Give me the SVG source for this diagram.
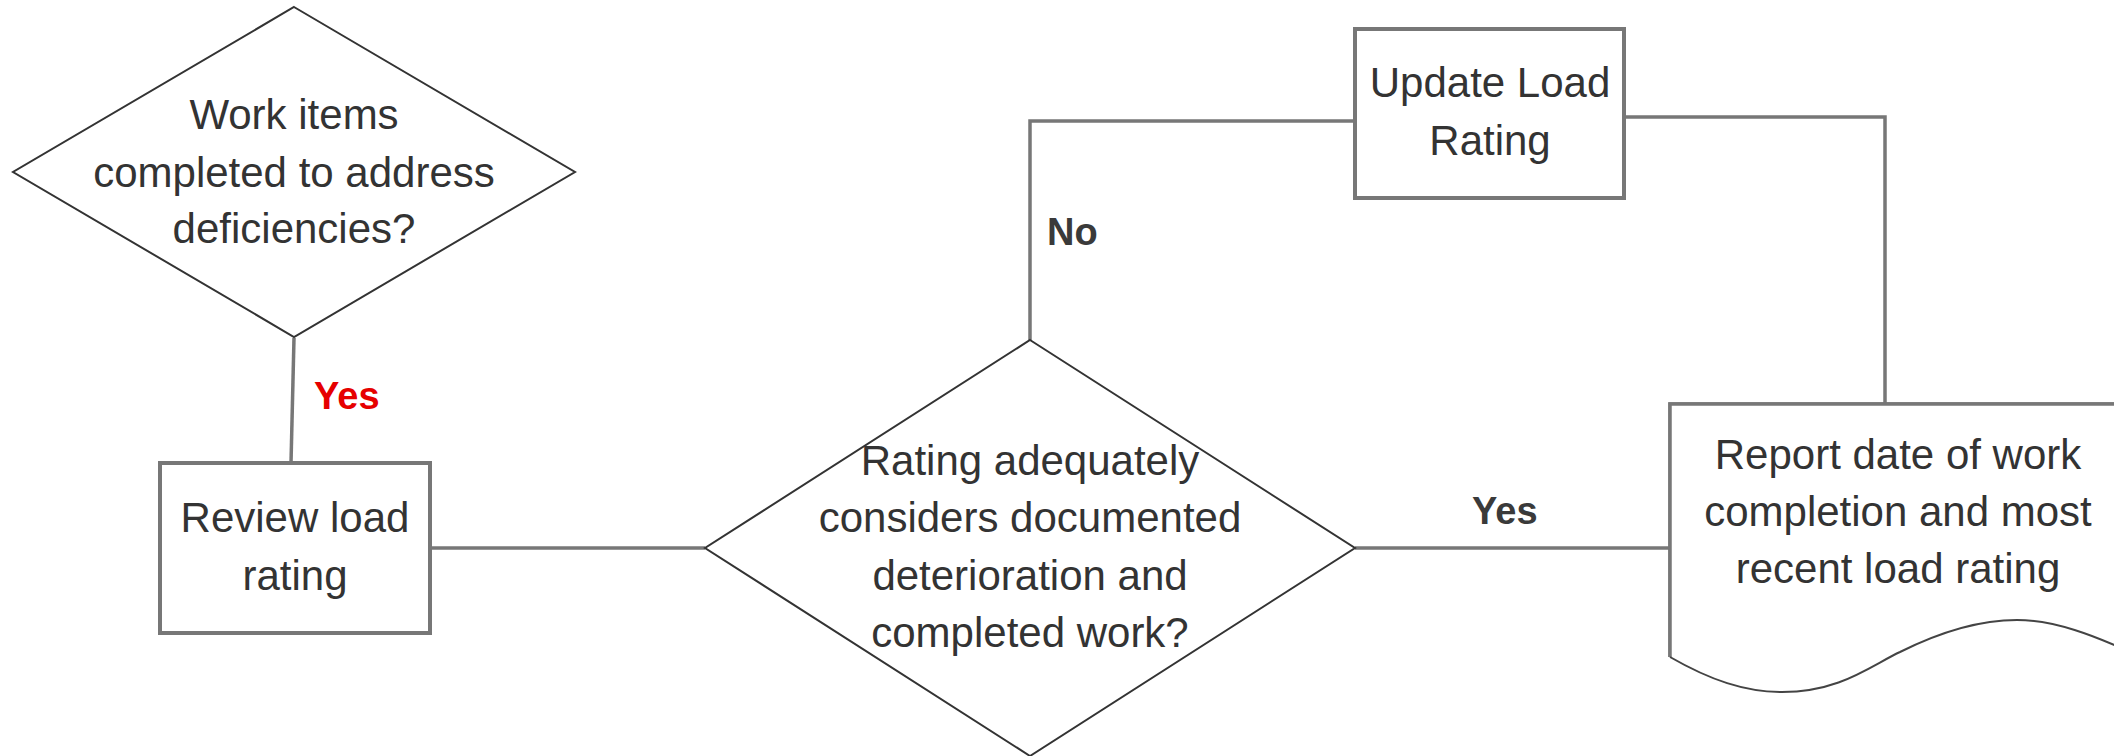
<svg xmlns="http://www.w3.org/2000/svg" width="2114" height="756" viewBox="0 0 2114 756">
<style>
.box{fill:#fff;stroke:#777;stroke-width:4}
.dia{fill:#fff;stroke:#333;stroke-width:2}
.doc{fill:#fff;stroke:#777;stroke-width:3.5}
.wave{fill:none;stroke:#444;stroke-width:2}
.conn{fill:none;stroke:#777;stroke-width:3.5}
.t{font-family:"Liberation Sans",Arial,sans-serif;font-size:42px;fill:#333;text-anchor:middle}
.lbl{font-family:"Liberation Sans",Arial,sans-serif;font-size:38px;font-weight:bold;fill:#3a3a3a}
.red{fill:#e60000}
</style>
<rect width="2114" height="756" fill="#fff"/>
<g id="connectors">
<line class="conn" x1="294" y1="338" x2="291" y2="463"/>
<line class="conn" x1="430" y1="548" x2="705" y2="548"/>
<polyline class="conn" points="1030,340 1030,121 1355,121"/>
<polyline class="conn" points="1624,117 1885,117 1885,404"/>
<line class="conn" x1="1355" y1="548" x2="1670" y2="548"/>
<text class="lbl red" x="314" y="409">Yes</text>
<text class="lbl" x="1047" y="245">No</text>
<text class="lbl" x="1472" y="524">Yes</text>
</g>
<g id="node-work-items">
<polygon class="dia" points="294,7 575,172 294,337 13,172"/>
<text class="t" x="294" y="129">Work items</text>
<text class="t" x="294" y="187">completed to address</text>
<text class="t" x="294" y="243">deficiencies?</text>
</g>
<g id="node-review">
<rect class="box" x="160" y="463" width="270" height="170"/>
<text class="t" x="295" y="532">Review load</text>
<text class="t" x="295" y="590">rating</text>
</g>
<g id="node-rating-decision">
<polygon class="dia" points="1030,340 1355,548 1030,756 705,548"/>
<text class="t" x="1030" y="475">Rating adequately</text>
<text class="t" x="1030" y="532">considers documented</text>
<text class="t" x="1030" y="590">deterioration and</text>
<text class="t" x="1030" y="647">completed work?</text>
</g>
<g id="node-update">
<rect class="box" x="1355" y="29" width="269" height="169"/>
<text class="t" x="1490" y="97">Update Load</text>
<text class="t" x="1490" y="155">Rating</text>
</g>
<g id="node-report">
<path class="doc" d="M1670,657 L1670,404 L2130,404"/>
<path fill="#fff" stroke="none" d="M1670,404 L2130,404 L2130,652 C2095,636 2055,620 2017,620 C1980,620 1940,632 1900,652 C1870,666 1840,692 1782,692 C1745,692 1710,680 1670,657 Z"/>
<path class="doc" d="M1670,657 L1670,404 L2130,404"/>
<path class="wave" d="M1670,657 C1710,680 1745,692 1782,692 C1840,692 1870,666 1900,652 C1940,632 1980,620 2017,620 C2055,620 2095,636 2130,652"/>
<text class="t" x="1898" y="469">Report date of work</text>
<text class="t" x="1898" y="526">completion and most</text>
<text class="t" x="1898" y="583">recent load rating</text>
</g>
</svg>
